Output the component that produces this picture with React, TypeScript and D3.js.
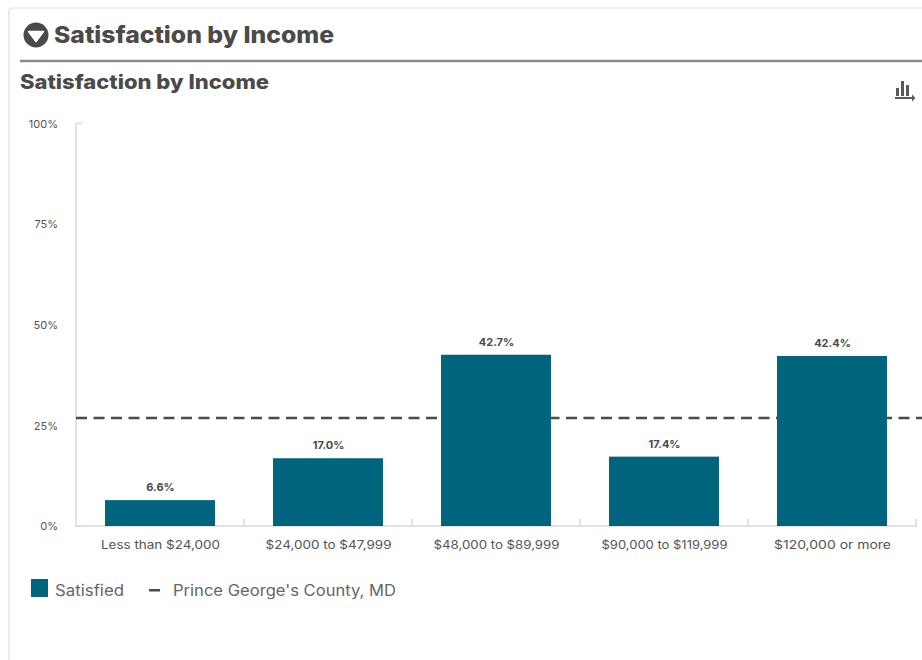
import React from "react";
import * as d3 from "d3";

const categories = ["Less than $24,000", "$24,000 to $47,999", "$48,000 to $89,999", "$90,000 to $119,999", "$120,000 or more"];
const satisfied = [6.6, 17.0, 42.7, 17.4, 42.4];
const barLabels = ["6.6%", "17.0%", "42.7%", "17.4%", "42.4%"];
const yTicks = [0, 25, 50, 75, 100];
const countyValue = 27.0;
const titleText = "Satisfaction by Income";
const legendBar = "Satisfied";
const legendLine = "Prince George's County, MD";

const W = 922, H = 660;
const TEAL = "#00647d", DARK = "#4a4a4a", AXIS = "#d9d9d9", TXT = "#555555";
const FONT = "Inter, 'DejaVu Sans', sans-serif";

export default function App() {
  const x = d3.scaleBand<string>().domain(categories).range([76, 916]).paddingInner(0).paddingOuter(0);
  const y = d3.scaleLinear().domain([0, 100]).range([526.7, 124]);
  const bw = 110;
  const base = 526;
  React.useEffect(() => {
    document.body.style.margin = "0";
    document.body.style.overflow = "hidden";
    document.body.style.background = "#fff";
  }, []);
  return (
    <svg width={W} height={H} style={{ display: "block", position: "absolute", left: 0, top: 0 }} fontFamily={FONT}>
      <rect width={W} height={H} fill="#fff" />
      {/* card edge */}
      <path d="M9 660V11Q9 8 12 8H922" fill="none" stroke="#e8e8e8" strokeWidth={1.5} />
      {/* heading */}
      <circle cx={36} cy={35} r={12.5} fill={DARK} />
      <path d="M28.5 31.5H43.5L36 41.5Z" fill="#fff" stroke="#fff" strokeWidth={1.5} strokeLinejoin="round" />
      <text x={54} y={43} fontSize={23} fontWeight={800} fill={DARK} textLength={280} lengthAdjust="spacingAndGlyphs">{titleText}</text>
      <line x1={20} x2={922} y1={61} y2={61} stroke="#8c8c8c" strokeWidth={2.4} />
      <text x={20} y={89} fontSize={20} fontWeight={800} fill={DARK} textLength={249} lengthAdjust="spacingAndGlyphs">{titleText}</text>
      {/* menu icon */}
      <g fill="#5a5a5a">
        <rect x={896} y={88} width={3} height={8} />
        <rect x={901} y={81} width={3} height={15} />
        <rect x={906} y={85} width={3} height={11} />
        <rect x={895} y={97} width={17} height={2} />
        <path d="M912 94.5L915.5 98L912 101.5Z" />
      </g>
      {/* y axis */}
      <path d="M82 123.5H76V526H82" fill="none" stroke={AXIS} strokeWidth={1.5} />
      {yTicks.map((t) => (
        <text key={t} x={58} y={y(t) + 3.5} fontSize={11} fill={TXT} textAnchor="end">{t}%</text>
      ))}
      {/* x axis */}
      <line x1={76} x2={917} y1={base} y2={base} stroke={AXIS} strokeWidth={1.5} />
      {categories.map((c) => (
        <line key={c} x1={x(c)! + x.bandwidth()} x2={x(c)! + x.bandwidth()} y1={519} y2={base} stroke={AXIS} strokeWidth={1.5} />
      ))}
      {/* county line */}
      <line x1={76} x2={922} y1={y(countyValue)} y2={y(countyValue)} stroke={DARK} strokeWidth={2.6} strokeDasharray="11 6.5" />
      {/* bars */}
      {categories.map((c, i) => {
        const cx = x(c)! + x.bandwidth() / 2;
        return (
          <g key={c}>
            <rect x={cx - bw / 2} y={y(satisfied[i])} width={bw} height={base - y(satisfied[i])} fill={TEAL} />
            <text x={cx + 0.5} y={y(satisfied[i]) - 9} fontSize={11} fontWeight={700} fill={DARK} textAnchor="middle">{barLabels[i]}</text>
            <text x={cx + 0.5} y={549} fontSize={11.5} fill={TXT} textAnchor="middle" textLength={c.length > 17 ? 126 : c.length > 16 ? 119 : 117} lengthAdjust="spacingAndGlyphs">{c}</text>
          </g>
        );
      })}
      {/* legend */}
      <rect x={31} y={579} width={17} height={18} fill={TEAL} />
      <text x={55} y={595.5} fontSize={15.5} fill="#666" textLength={69} lengthAdjust="spacingAndGlyphs">{legendBar}</text>
      <rect x={149} y={589} width={11} height={2.5} fill={DARK} />
      <text x={173} y={595.5} fontSize={15.5} fill="#666" textLength={223} lengthAdjust="spacingAndGlyphs">{legendLine}</text>
    </svg>
  );
}
